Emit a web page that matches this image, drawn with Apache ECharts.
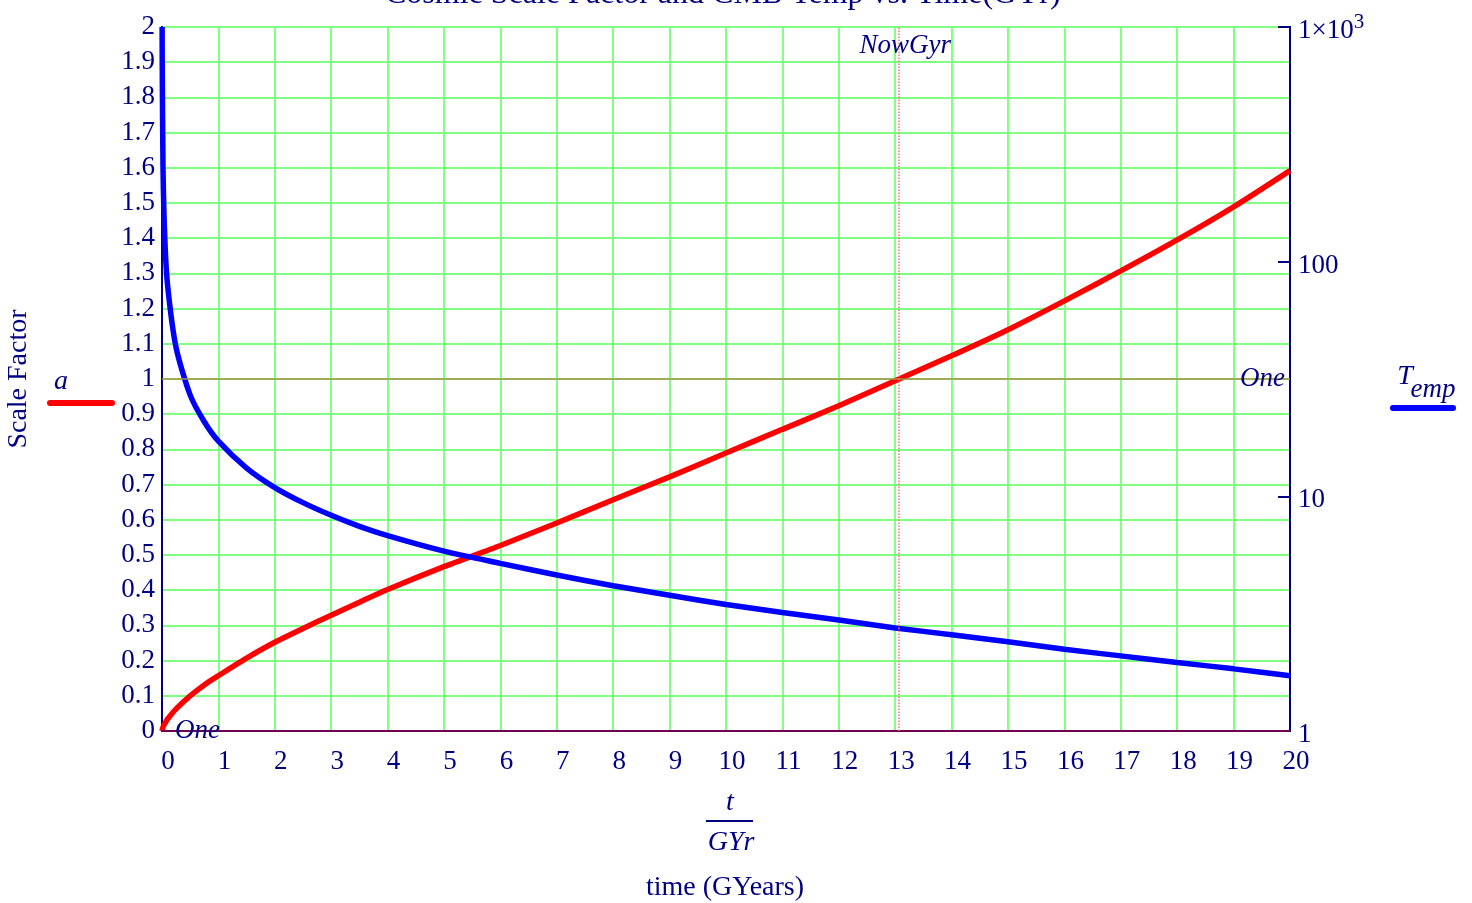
<!DOCTYPE html>
<html lang="en">
<head>
  <meta charset="UTF-8">
  <title>Cosmic Scale Factor and CMB Temp vs. Time(GYr)</title>
  <style>
    body, html {
      background: #fff;
      margin: 0;
      padding: 0;
    }
    #main {
      width: 1472px;
      height: 903px;
    }
  </style>
</head>
<body>
  <div id="main"></div>
</body>
<script src="https://cdn.jsdelivr.net/npm/echarts@6/dist/echarts.min.js"></script>
<script>
  // scale factor a(t), t in GYr
  var scaleT = [0, 0.01, 0.03, 0.05, 0.1, 0.25, 0.5, 0.75, 1, 1.5, 2, 2.5, 3, 3.5, 4, 5, 6, 7, 8, 9, 10, 11, 12, 13, 14, 15, 16, 17, 18, 19, 20];
  var scaleA = [0, 0.007, 0.015, 0.021, 0.034, 0.063, 0.1, 0.131, 0.157, 0.207, 0.252, 0.291, 0.329, 0.366, 0.402, 0.467, 0.527, 0.591, 0.657, 0.722, 0.79, 0.857, 0.924, 0.995, 1.066, 1.14, 1.222, 1.307, 1.395, 1.489, 1.592];

  // CMB temperature (log axis)
  var tempT = [0.0022, 0.004, 0.018, 0.05, 0.1, 0.25, 0.5, 0.75, 1, 1.5, 2, 2.5, 3, 3.5, 4, 5, 6, 7, 8, 9, 10, 11, 12, 13, 14, 15, 16, 17, 18, 19, 20];
  var tempK = [1000, 700, 250, 125, 79, 43, 27, 20.8, 17.2, 13.2, 10.9, 9.4, 8.3, 7.45, 6.8, 5.84, 5.18, 4.62, 4.16, 3.79, 3.46, 3.2, 2.97, 2.75, 2.57, 2.4, 2.23, 2.09, 1.96, 1.84, 1.72];

  // markers
  var nowGyr = 13.07;
  var one = 1;
  var zero = 0;

  var navy = '#000080';
  var serif = 'Liberation Serif';

  function pairs(xs, ys) {
    var out = [];
    for (var i = 0; i < xs.length; i++) out.push([xs[i], ys[i]]);
    return out;
  }

  var myChart = echarts.init(document.getElementById('main'));

  var option = {
    animation: false,
    title: {
      text: 'Cosmic Scale Factor and CMB Temp vs. Time(GYr)',
      left: 385,
      top: -21,
      padding: 0,
      textStyle: { color: navy, fontFamily: serif, fontSize: 32, fontWeight: 'normal' }
    },
    grid: {
      left: 162,
      right: 182,
      top: 27,
      bottom: 172,
      show: true,
      borderColor: navy,
      borderWidth: 2
    },
    xAxis: {
      type: 'value',
      min: 0,
      max: 20,
      interval: 1,
      axisLine: { show: false },
      axisTick: { show: false },
      axisLabel: {
        color: navy, fontFamily: serif, fontSize: 27,
        margin: 17, padding: [0, 0, 0, 12]
      },
      splitLine: { lineStyle: { color: '#80ff80', width: 2 } }
    },
    yAxis: [
      {
        type: 'value',
        min: 0,
        max: 2,
        interval: 0.1,
        axisLine: { show: true, lineStyle: { color: navy, width: 2 } },
        axisTick: { show: false },
        axisLabel: { color: navy, fontFamily: serif, fontSize: 27, margin: 7, padding: [8, 0, 0, 0] },
        splitLine: { lineStyle: { color: '#80ff80', width: 2 } }
      },
      {
        type: 'log',
        logBase: 10,
        min: 1,
        max: 1000,
        position: 'right',
        axisLine: { show: true, lineStyle: { color: navy, width: 2 } },
        axisTick: { show: true, inside: true, length: 12, lineStyle: { color: navy, width: 2 } },
        axisLabel: {
          color: navy, fontFamily: serif, fontSize: 27, margin: 8, padding: [8, 0, 0, 0],
          formatter: function (v) {
            if (v >= 1000) return '{n|1×10}{s|3}';
            return String(v);
          },
          rich: {
            n: { color: navy, fontFamily: serif, fontSize: 27 },
            s: { color: navy, fontFamily: serif, fontSize: 21, padding: [0, 0, 18, 0] }
          }
        },
        splitLine: { show: false }
      }
    ],
    series: [
      {
        name: 'a',
        type: 'line',
        yAxisIndex: 0,
        data: pairs(scaleT, scaleA),
        showSymbol: false,
        smooth: 0.25,
        lineStyle: { color: '#ff0000', width: 5.5 },
        z: 3,
        markLine: {
          silent: true,
          symbol: 'none',
          data: [
            {
              yAxis: one,
              lineStyle: { color: '#a89048', width: 1.5, type: 'solid' },
              label: {
                show: true, position: 'insideEnd', distance: 5, formatter: 'One',
                padding: [5, 0, 0, 0],
                color: navy, fontFamily: serif, fontSize: 27, fontStyle: 'italic'
              }
            },
            {
              yAxis: zero,
              lineStyle: { color: '#700050', width: 2, type: 'solid' },
              label: {
                show: true, position: 'insideStart', distance: 13, formatter: 'One',
                padding: [6, 0, 0, 0],
                color: navy, fontFamily: serif, fontSize: 27, fontStyle: 'italic'
              }
            },
            {
              xAxis: nowGyr,
              lineStyle: { color: '#ff7070', width: 1.5, type: 'dotted' },
              label: {
                show: true, position: 'end', distance: -32, formatter: 'NowGyr',
                padding: [0, 0, 0, 12],
                color: navy, fontFamily: serif, fontSize: 27, fontStyle: 'italic'
              }
            }
          ]
        }
      },
      {
        name: 'Temp',
        type: 'line',
        yAxisIndex: 1,
        data: pairs(tempT, tempK),
        showSymbol: false,
        smooth: 0.25,
        lineStyle: { color: '#0000ff', width: 5.5 },
        z: 4
      }
    ],
    graphic: [
      {
        type: 'text', x: 19, y: 379, rotation: Math.PI / 2,
        style: { text: 'Scale Factor', fill: navy, font: '28px "Liberation Serif"', align: 'center', verticalAlign: 'middle' }
      },
      {
        type: 'text', x: 61, y: 382,
        style: { text: 'a', fill: navy, font: 'italic 28px "Liberation Serif"', align: 'center', verticalAlign: 'middle' }
      },
      {
        type: 'line', shape: { x1: 50, y1: 403, x2: 112, y2: 403 },
        style: { stroke: '#ff0000', lineWidth: 6, lineCap: 'round' }
      },
      {
        type: 'text', x: 1405, y: 377,
        style: { text: 'T', fill: navy, font: 'italic 28px "Liberation Serif"', align: 'center', verticalAlign: 'middle' }
      },
      {
        type: 'text', x: 1433, y: 390,
        style: { text: 'emp', fill: navy, font: 'italic 27px "Liberation Serif"', align: 'center', verticalAlign: 'middle' }
      },
      {
        type: 'line', shape: { x1: 1393, y1: 408, x2: 1453, y2: 408 },
        style: { stroke: '#0000ff', lineWidth: 6, lineCap: 'round' }
      },
      {
        type: 'text', x: 730, y: 803,
        style: { text: 't', fill: navy, font: 'italic 28px "Liberation Serif"', align: 'center', verticalAlign: 'middle' }
      },
      {
        type: 'line', shape: { x1: 706, y1: 821, x2: 753, y2: 821 },
        style: { stroke: navy, lineWidth: 2 }
      },
      {
        type: 'text', x: 731, y: 843,
        style: { text: 'GYr', fill: navy, font: 'italic 28px "Liberation Serif"', align: 'center', verticalAlign: 'middle' }
      },
      {
        type: 'text', x: 725, y: 888,
        style: { text: 'time (GYears)', fill: navy, font: '28px "Liberation Serif"', align: 'center', verticalAlign: 'middle' }
      }
    ]
  };

  myChart.setOption(option);
</script>
</html>
